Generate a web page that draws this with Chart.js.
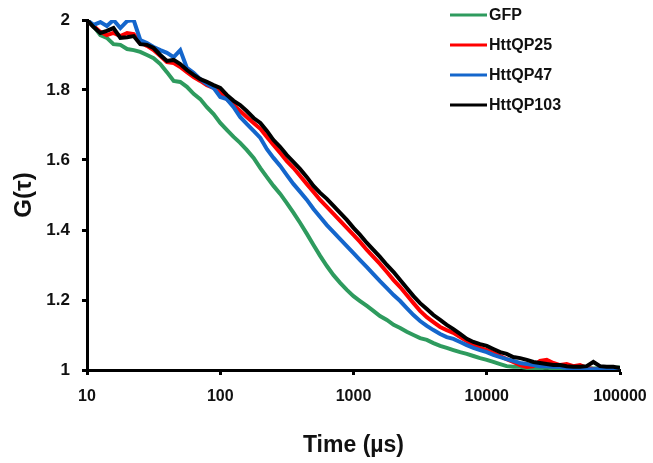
<!DOCTYPE html>
<html>
<head>
<meta charset="utf-8">
<script src="https://cdn.jsdelivr.net/npm/chart.js@4.4.1/dist/chart.umd.min.js"></script>
<style>
html,body{margin:0;padding:0;background:#fff;}
#wrap{width:653px;height:463px;}
</style>
</head>
<body>
<div id="wrap"><canvas id="c" width="653" height="463"></canvas></div>
<script>
const times = [10, 11.2, 12.6, 14.1, 15.8, 17.8, 20, 22.4, 25.1, 28.2, 31.6, 35.5, 39.8, 44.7, 50.1, 56.2, 63.1, 70.8, 79.4, 89.1,
  100, 112, 126, 141, 158, 178, 200, 224, 251, 282, 316, 355, 398, 447, 501, 562, 631, 708, 794, 891,
  1000, 1120, 1260, 1410, 1580, 1780, 2000, 2240, 2510, 2820, 3160, 3550, 3980, 4470, 5010, 5620, 6310, 7080, 7940, 8910,
  10000, 11200, 12600, 14100, 15800, 17800, 20000, 22400, 25100, 28200, 31600, 35500, 39800, 44700, 50100, 56200, 63100, 70800, 79400, 89100,
  100000];

const gfp = [2.000, 1.983, 1.957, 1.949, 1.931, 1.929, 1.917, 1.914, 1.909, 1.900, 1.891, 1.874, 1.851, 1.826, 1.823, 1.809, 1.789, 1.774, 1.751, 1.731,
  1.706, 1.686, 1.666, 1.649, 1.629, 1.606, 1.577, 1.551, 1.526, 1.503, 1.477, 1.449, 1.420, 1.389, 1.357, 1.326, 1.297, 1.271, 1.249, 1.229,
  1.211, 1.197, 1.183, 1.169, 1.154, 1.143, 1.129, 1.120, 1.109, 1.100, 1.091, 1.086, 1.077, 1.069, 1.063, 1.057, 1.051, 1.046, 1.040, 1.034,
  1.029, 1.023, 1.017, 1.011, 1.009, 1.009, 1.006, 1.006, 1.005, 1.007, 1.004, 1.006, 1.005, 1.004, 1.006, 1.005, 1.004, 1.005, 1.006, 1.005,
  1.008];

const httQP25 = [2.000, 1.983, 1.966, 1.957, 1.963, 1.954, 1.963, 1.960, 1.937, 1.926, 1.914, 1.897, 1.880, 1.877, 1.866, 1.851, 1.837, 1.826, 1.814, 1.806,
  1.794, 1.774, 1.757, 1.740, 1.723, 1.706, 1.689, 1.666, 1.643, 1.620, 1.597, 1.577, 1.554, 1.531, 1.509, 1.486, 1.466, 1.446, 1.426, 1.406,
  1.386, 1.366, 1.343, 1.323, 1.303, 1.280, 1.257, 1.237, 1.214, 1.191, 1.169, 1.151, 1.137, 1.123, 1.114, 1.106, 1.094, 1.083, 1.071, 1.063,
  1.057, 1.049, 1.040, 1.031, 1.023, 1.014, 1.009, 1.011, 1.026, 1.029, 1.020, 1.014, 1.017, 1.011, 1.014, 1.006, 1.003, 1.002, 1.003, 1.002,
  1.001];

const httQP47 = [2.000, 1.986, 1.994, 1.983, 2.000, 1.977, 1.997, 2.000, 1.943, 1.934, 1.923, 1.914, 1.906, 1.894, 1.914, 1.863, 1.849, 1.831, 1.817, 1.806,
  1.780, 1.774, 1.751, 1.723, 1.703, 1.683, 1.663, 1.631, 1.606, 1.583, 1.557, 1.531, 1.509, 1.486, 1.460, 1.437, 1.414, 1.394, 1.374, 1.354,
  1.334, 1.314, 1.294, 1.274, 1.254, 1.234, 1.214, 1.197, 1.177, 1.157, 1.140, 1.126, 1.114, 1.103, 1.094, 1.089, 1.080, 1.071, 1.063, 1.057,
  1.051, 1.043, 1.037, 1.031, 1.026, 1.020, 1.017, 1.014, 1.011, 1.011, 1.009, 1.009, 1.006, 1.003, 1.003, 1.002, 1.002, 1.003, 1.002, 1.002,
  1.001];

const httQP103 = [2.000, 1.980, 1.963, 1.969, 1.977, 1.949, 1.951, 1.954, 1.931, 1.929, 1.920, 1.900, 1.883, 1.886, 1.874, 1.857, 1.843, 1.831, 1.823, 1.814,
  1.806, 1.786, 1.769, 1.757, 1.740, 1.720, 1.706, 1.683, 1.657, 1.637, 1.614, 1.594, 1.574, 1.551, 1.526, 1.506, 1.489, 1.469, 1.449, 1.429,
  1.406, 1.386, 1.363, 1.343, 1.323, 1.300, 1.280, 1.257, 1.234, 1.211, 1.191, 1.174, 1.157, 1.143, 1.129, 1.117, 1.103, 1.089, 1.080, 1.074,
  1.069, 1.060, 1.051, 1.046, 1.037, 1.034, 1.029, 1.023, 1.020, 1.017, 1.014, 1.014, 1.011, 1.009, 1.009, 1.011, 1.023, 1.011, 1.009, 1.009,
  1.006];

const seriesNames = ['GFP', 'HttQP25', 'HttQP47', 'HttQP103'];
const seriesColors = ['#2e9b5e', '#ff0000', '#1466cc', '#000000'];
const seriesValues = [gfp, httQP25, httQP47, httQP103];
const xTickValues = [10, 100, 1000, 10000, 100000];
const yTickValues = [1, 1.2, 1.4, 1.6, 1.8, 2];

const FONT = "'Liberation Sans', Arial, sans-serif";

const datasets = seriesNames.map((name, s) => ({
  label: name,
  data: times.map((t, i) => ({ x: t, y: seriesValues[s][i] })),
  borderColor: seriesColors[s],
  backgroundColor: seriesColors[s],
  borderWidth: 4,
  pointRadius: 0,
  tension: 0,
  fill: false,
  order: 3 - s
}));

const legendPlugin = {
  id: 'customLegend',
  afterDraw(chart) {
    const ctx = chart.ctx;
    ctx.save();
    ctx.font = "bold 16px " + FONT;
    ctx.textBaseline = 'middle';
    ctx.textAlign = 'left';
    chart.data.datasets.forEach((ds, i) => {
      const y = 15 + i * 30;
      ctx.strokeStyle = ds.borderColor;
      ctx.lineWidth = 3;
      ctx.beginPath();
      ctx.moveTo(450, y);
      ctx.lineTo(487, y);
      ctx.stroke();
      ctx.fillStyle = '#111';
      ctx.fillText(ds.label, 489, y + 1);
    });
    ctx.restore();
  }
};

new Chart(document.getElementById('c'), {
  type: 'line',
  data: { datasets },
  plugins: [legendPlugin],
  options: {
    responsive: false,
    animation: false,
    layout: { padding: { top: 20, right: 33, bottom: 0, left: 0 } },
    plugins: { legend: { display: false }, tooltip: { enabled: false } },
    scales: {
      x: {
        type: 'logarithmic',
        min: 10,
        max: 100000,
        afterBuildTicks: (scale) => { scale.ticks = xTickValues.map(v => ({ value: v })); },
        afterFit: (scale) => { scale.height = 93; scale.paddingLeft = 0; scale.paddingRight = 0; },
        ticks: {
          autoSkip: false,
          maxRotation: 0,
          color: '#111',
          padding: 12,
          font: { family: FONT, size: 16, weight: 'bold' },
          callback: (v) => String(v)
        },
        grid: { display: true, drawOnChartArea: false, drawTicks: true, tickLength: 5, tickWidth: 3, color: '#000' },
        border: { display: true, width: 3, color: '#000' },
        title: { display: true, text: 'Time (µs)', color: '#111', font: { family: FONT, size: 23, weight: 'bold' }, padding: { top: 0, bottom: 4 } }
      },
      y: {
        type: 'linear',
        min: 1,
        max: 2,
        afterBuildTicks: (scale) => { scale.ticks = yTickValues.map(v => ({ value: v })); },
        afterFit: (scale) => { scale.width = 87; scale.paddingTop = 0; scale.paddingBottom = 0; },
        ticks: {
          color: '#111',
          padding: 12,
          font: { family: FONT, size: 17, weight: 'bold' },
          callback: (v) => String(+v.toFixed(1))
        },
        grid: { display: true, drawOnChartArea: false, drawTicks: true, tickLength: 5, tickWidth: 3, color: '#000' },
        border: { display: true, width: 3, color: '#000' },
        title: { display: true, text: 'G(τ)', color: '#111', font: { family: FONT, size: 24, weight: 'bold' }, padding: { top: 10, bottom: 0 } }
      }
    }
  }
});
</script>
</body>
</html>
